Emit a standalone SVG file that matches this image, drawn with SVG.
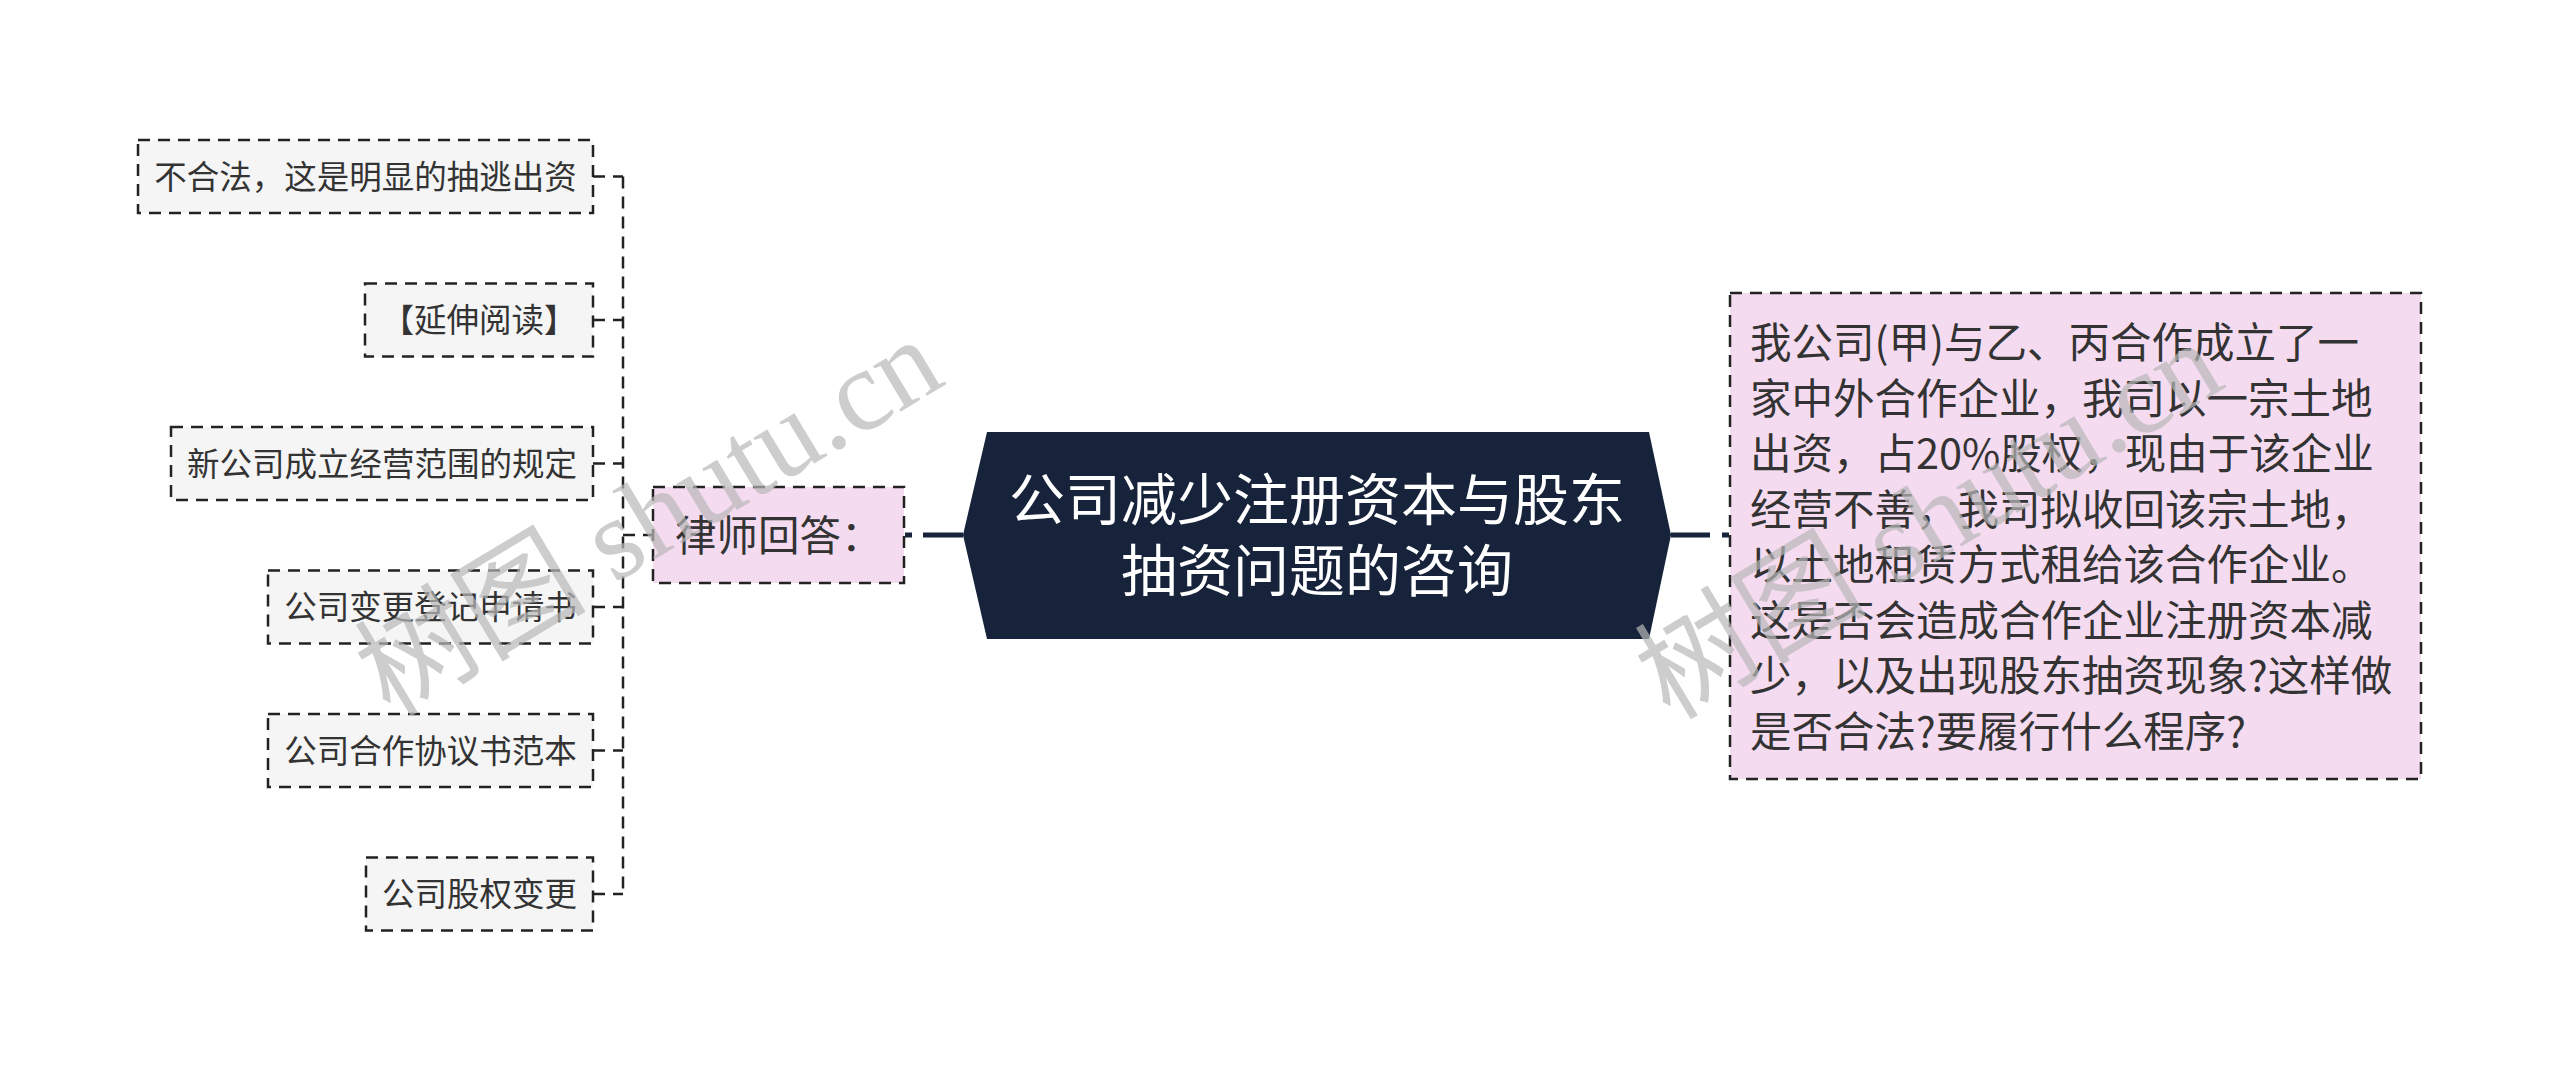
<svg xmlns="http://www.w3.org/2000/svg" width="2560" height="1071" viewBox="0 0 2560 1071">
<defs>
<style>
.bl{fill:#f5f5f5;stroke:#222;stroke-width:2.5;stroke-dasharray:12 8;}
.bp{fill:#f5dbf0;stroke:#222;stroke-width:2.5;stroke-dasharray:12 8;}
.cn{fill:none;stroke:#222;stroke-width:2.5;stroke-dasharray:12 8;}
.main{fill:none;stroke:#17233a;stroke-width:5;}
.t{font-family:"Noto Sans CJK SC","Noto Sans",sans-serif;fill:#333;}
.s{font-size:32.5px;text-anchor:middle;}
.m{font-size:41.5px;}
.ttl{font-family:"Noto Sans CJK SC","Noto Sans",sans-serif;fill:#fff;font-size:56px;text-anchor:middle;}
.wm{font-family:"Liberation Serif","Noto Sans CJK SC",serif;font-size:116px;fill:#b8b8b8;opacity:0.7;text-anchor:middle;}
</style>
</defs>
<rect width="2560" height="1071" fill="#fff"/>
<g id="connectors">
<path class="cn" d="M623 176.5 V894"/>
<path class="cn" d="M593 176.5 H623"/>
<path class="cn" d="M593 320 H623"/>
<path class="cn" d="M593 463.5 H623"/>
<path class="cn" d="M593 607 H623"/>
<path class="cn" d="M593 750.5 H623"/>
<path class="cn" d="M593 894 H623"/>
<path class="cn" d="M623 535 H653"/>
<path class="main" d="M963 535 H923 M912 535 H905"/>
<path class="main" d="M1671 535 H1710 M1722 535 H1729"/>
</g>
<g id="n-center">
<polygon points="987,432 1649,432 1671,535 1649,639 987,639 963,535" fill="#17233a"/>
<text class="ttl" x="1317" y="520">公司减少注册资本与股东</text>
<text class="ttl" x="1317" y="591">抽资问题的咨询</text>
</g>
<g id="n-lawyer">
<rect class="bp" x="653" y="487" width="251" height="96"/>
<text class="t m" x="675" y="551">律师回答：</text>
</g>
<g id="n-question">
<rect class="bp" x="1730" y="293" width="691" height="486"/>
<text class="t m" x="1750" y="358">我公司(甲)与乙、丙合作成立了一</text>
<text class="t m" x="1750" y="414">家中外合作企业，我司以一宗土地</text>
<text class="t m" x="1750" y="469">出资，占20%股权，现由于该企业</text>
<text class="t m" x="1750" y="525">经营不善，我司拟收回该宗土地，</text>
<text class="t m" x="1750" y="580">以土地租赁方式租给该合作企业。</text>
<text class="t m" x="1750" y="636">这是否会造成合作企业注册资本减</text>
<text class="t m" x="1750" y="691">少，以及出现股东抽资现象?这样做</text>
<text class="t m" x="1750" y="747">是否合法?要履行什么程序?</text>
</g>
<g id="n-1">
<rect class="bl" x="138" y="140" width="455" height="73"/>
<text class="t s" x="365.5" y="188.5">不合法，这是明显的抽逃出资</text>
</g>
<g id="n-2">
<rect class="bl" x="365" y="283.5" width="228" height="73"/>
<text class="t s" x="479" y="332">【延伸阅读】</text>
</g>
<g id="n-3">
<rect class="bl" x="171" y="427" width="422" height="73"/>
<text class="t s" x="382" y="475.5">新公司成立经营范围的规定</text>
</g>
<g id="n-4">
<rect class="bl" x="268" y="570.5" width="325" height="73"/>
<text class="t s" x="430.5" y="619">公司变更登记申请书</text>
</g>
<g id="n-5">
<rect class="bl" x="268" y="714" width="325" height="73"/>
<text class="t s" x="430.5" y="762.5">公司合作协议书范本</text>
</g>
<g id="n-6">
<rect class="bl" x="366" y="857.5" width="227" height="73"/>
<text class="t s" x="479.5" y="906">公司股权变更</text>
</g>
<g id="watermarks">
<text class="wm" transform="rotate(-31 650 519)" x="650" y="556">树图 shutu.cn</text>
<text class="wm" transform="rotate(-31 1930 522)" x="1930" y="559">树图 shutu.cn</text>
</g>
</svg>
